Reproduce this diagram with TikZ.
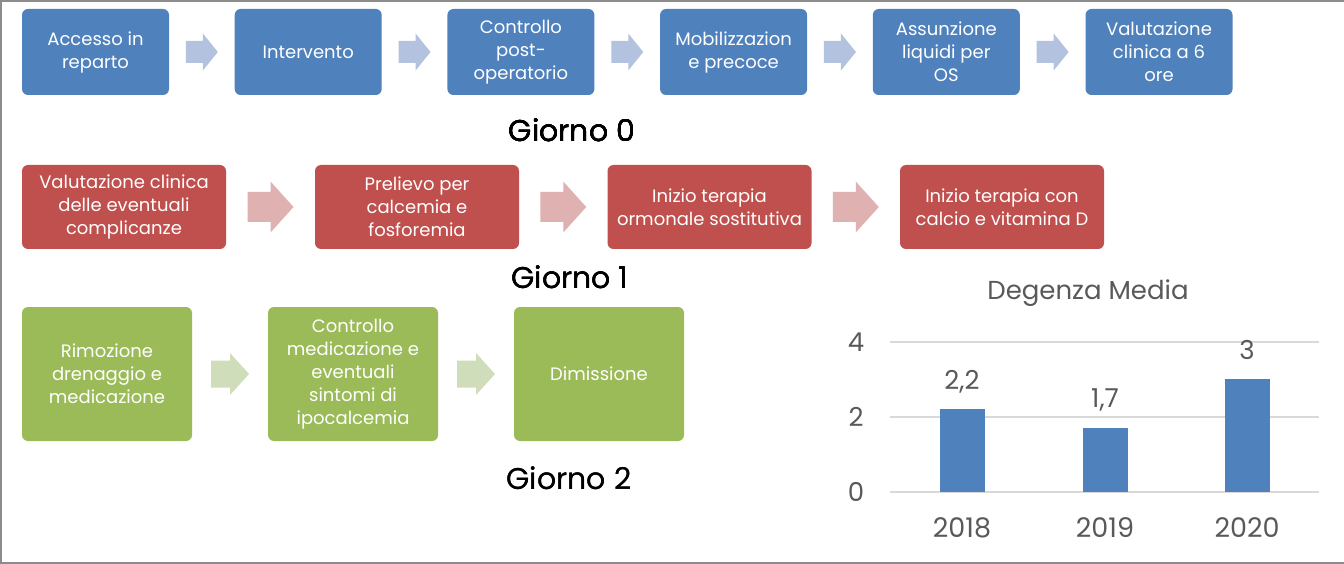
\documentclass[tikz,border=0pt]{standalone}
\usepackage{fontspec}
\setmainfont{Poppins}
\usetikzlibrary{calc}
\definecolor{bbox}{HTML}{4F81BD}
\definecolor{rbox}{HTML}{C0504D}
\definecolor{gbox}{HTML}{9BBB59}
\definecolor{barr}{HTML}{B3C2DE}
\definecolor{rarr}{HTML}{DFB1B0}
\definecolor{garr}{HTML}{CFDDBA}
\definecolor{txtgray}{HTML}{595959}
\definecolor{gridgray}{HTML}{D9D9D9}
\definecolor{framegray}{HTML}{8C8C8C}
\tikzset{
  stepbox/.style={rounded corners=6pt, text=white, align=center, inner sep=0pt,
    font=\fontsize{18}{23}\selectfont},
  bluebox/.style={stepbox, fill=bbox, minimum width=147, minimum height=86},
  redbox/.style={stepbox, fill=rbox, minimum width=204, minimum height=84},
  greenbox/.style={stepbox, fill=gbox, minimum width=170, minimum height=134},
  daylabel/.style={anchor=base, font=\fontsize{30}{36}\selectfont, text=black},
  charttext/.style={text=txtgray, font=\fontsize{26}{30}\selectfont},
  bar/.style={fill=bbox},
  gridline/.style={draw=gridgray, line width=2pt},
}
% block arrow: #1 centre, #2 length, #3 head width, #4 shaft width, #5 head length, #6 colour
\newcommand{\blockarr}[6]{%
  \fill[#6, shift={#1}] (-#2/2,-#4/2) -- (#2/2-#5,-#4/2) -- (#2/2-#5,-#3/2) -- (#2/2,0)
    -- (#2/2-#5,#3/2) -- (#2/2-#5,#4/2) -- (-#2/2,#4/2) -- cycle;}
\begin{document}
\begin{tikzpicture}[x=1pt,y=-1pt]
\useasboundingbox (0,0) rectangle (1344,564);
\fill[white] (0,0) rectangle (1344,564);
\draw[framegray, line width=2pt] (1344,1) -- (1,1) -- (1,563) -- (1344,563);

% Day 0
\node[bluebox] (b1) at (95.5,52) {Accesso in\\reparto};
\node[bluebox] (b2) at (308.2,52) {Intervento};
\node[bluebox] (b3) at (520.9,52) {Controllo\\post-\\operatorio};
\node[bluebox] (b4) at (733.6,52) {Mobilizzazion\\e precoce};
\node[bluebox] (b5) at (946.3,52) {Assunzione\\liquidi per\\OS};
\node[bluebox] (b6) at (1159,52) {Valutazione\\clinica a 6\\ore};
\foreach \a/\b in {b1/b2,b2/b3,b3/b4,b4/b5,b5/b6}
  \blockarr{($(\a.east)!0.5!(\b.west)$)}{32}{37}{22}{15}{barr}
\node[daylabel] (g0) at (572,142) {Giorno 0};

% Day 1
\node[redbox] (r1) at (124,207) {Valutazione clinica\\delle eventuali\\complicanze};
\node[redbox] (r2) at (417,207) {Prelievo per\\calcemia e\\fosforemia};
\node[redbox] (r3) at (709.5,207) {Inizio terapia\\ormonale sostitutiva};
\node[redbox] (r4) at (1002,207) {Inizio terapia con\\calcio e vitamina D};
\foreach \a/\b in {r1/r2,r2/r3,r3/r4}
  \blockarr{($(\a.east)!0.5!(\b.west)$)}{46}{51}{30}{23}{rarr}
\node[daylabel] (g1) at (570,288) {Giorno 1};

% Day 2
\node[greenbox] (v1) at (107,374) {Rimozione\\drenaggio e\\medicazione};
\node[greenbox] (v2) at (353,374) {Controllo\\medicazione e\\eventuali\\sintomi di\\ipocalcemia};
\node[greenbox] (v3) at (599,374) {Dimissione};
\foreach \a/\b in {v1/v2,v2/v3}
  \blockarr{($(\a.east)!0.5!(\b.west)$)}{38}{42}{27}{19}{garr}
\node[daylabel] (g2) at (569,489) {Giorno 2};

% Chart
\node[charttext, anchor=base] (title) at (1088,299) {Degenza Media};
\foreach \v/\yy in {4/341.7,2/416.7,0/491.7}{
  \draw[gridline] (890,\yy) -- (1319,\yy);
  \node[charttext] (ax\v) at (856,\yy) {\v};
}
\foreach \cx/\val/\lab/\yr in {962/2.2/{2,2}/2018,1105/1.7/{1,7}/2019,1247/3/{3}/2020}{
  \fill[bar] (\cx-22.5,491.7) rectangle (\cx+22.5,491.7-\val*37.5);
  \node[charttext, anchor=base] (v\yr) at (\cx,491.7-\val*37.5-20) {\lab};
  \node[charttext, anchor=base, font=\fontsize{27}{30}\selectfont] (y\yr) at (\cx,537) {\yr};
}
\end{tikzpicture}
\end{document}
